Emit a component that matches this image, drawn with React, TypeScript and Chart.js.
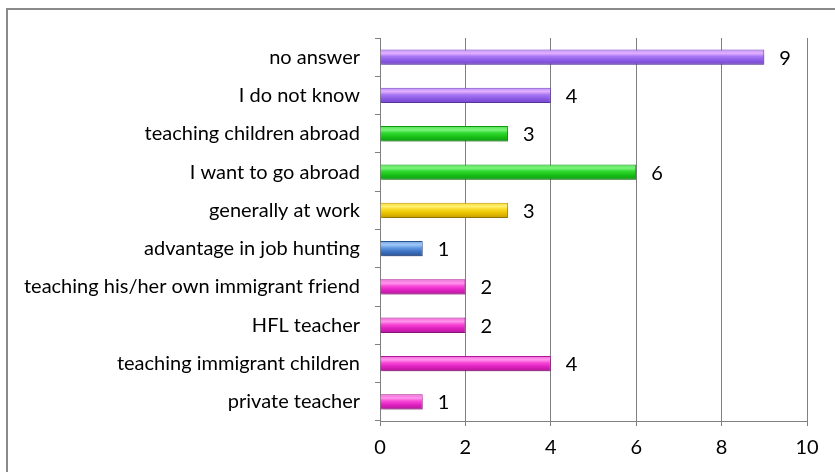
import React, { useEffect, useRef } from "react";
import { Chart, registerables } from "chart.js";

Chart.register(...registerables);

const categories = [
  "no answer",
  "I do not know",
  "teaching children abroad",
  "I want to go abroad",
  "generally at work",
  "advantage in job hunting",
  "teaching his/her own immigrant friend",
  "HFL teacher",
  "teaching immigrant children",
  "private teacher",
];
const values = [9, 4, 3, 6, 3, 1, 2, 2, 4, 1];
const colorGroups = ["purple", "purple", "green", "green", "yellow", "blue", "pink", "pink", "pink", "pink"];
const xTicks = [0, 2, 4, 6, 8, 10];

const palettes: Record<string, string[]> = {
  purple: ["#c090f8", "#e2b0ff", "#a878f4", "#8c5ce6", "#7444c8"],
  green: ["#50e050", "#7cf47c", "#30d830", "#18c018", "#0e9a0e"],
  yellow: ["#f8d830", "#fff070", "#f8d820", "#e8c000", "#c09a00"],
  blue: ["#70a0e0", "#a0c8f8", "#6098e0", "#3c70c0", "#2a5498"],
  pink: ["#f060d8", "#ff98ec", "#f848d8", "#e020c0", "#b0189a"],
};

const FONT = "Lato, 'Open Sans', sans-serif";
const FONT_SIZE = 20;

const gradientPlugin = {
  id: "gradients",
  beforeDatasetsDraw(chart: any) {
    const ctx = chart.ctx;
    const meta = chart.getDatasetMeta(0);
    meta.data.forEach((bar: any, i: number) => {
      const h = bar.height;
      const top = bar.y - h / 2;
      const p = palettes[colorGroups[i]];
      const g = ctx.createLinearGradient(0, top, 0, top + h);
      g.addColorStop(0, p[0]);
      g.addColorStop(0.25, p[1]);
      g.addColorStop(0.45, p[2]);
      g.addColorStop(0.7, p[3]);
      g.addColorStop(1, p[4]);
      bar.options.backgroundColor = g;
      bar.options.borderColor = p[4];
    });
    ctx.save();
    ctx.shadowColor = "rgba(0,0,0,0.28)";
    ctx.shadowBlur = 4;
    ctx.shadowOffsetX = 1;
    ctx.shadowOffsetY = 3;
  },
  afterDatasetsDraw(chart: any) {
    const ctx = chart.ctx;
    ctx.restore();
    const meta = chart.getDatasetMeta(0);
    ctx.save();
    ctx.font = `${FONT_SIZE}px ${FONT}`;
    ctx.fillStyle = "#000";
    ctx.textBaseline = "middle";
    ctx.textAlign = "left";
    meta.data.forEach((bar: any, i: number) => {
      ctx.fillText(String(values[i]), bar.x + 15, bar.y + 1);
    });
    ctx.restore();
  },
};

export default function App() {
  const ref = useRef<HTMLCanvasElement>(null);
  useEffect(() => {
    if (!ref.current) return;
    const chart = new Chart(ref.current, {
      type: "bar",
      data: {
        labels: categories,
        datasets: [
          {
            data: values,
            backgroundColor: (c: any) => palettes[colorGroups[c.dataIndex]][2],
            borderColor: (c: any) => palettes[colorGroups[c.dataIndex]][4],
            borderWidth: 1,
            barPercentage: 0.4,
            categoryPercentage: 1,
          },
        ],
      },
      options: {
        indexAxis: "y",
        animation: false,
        responsive: false,
        maintainAspectRatio: false,
        layout: { padding: { left: 0, right: 28, top: 38, bottom: 0 } },
        plugins: { legend: { display: false }, tooltip: { enabled: false } },
        scales: {
          x: {
            min: 0,
            max: 10,
            afterBuildTicks: (s: any) => {
              s.ticks = xTicks.map((v) => ({ value: v }));
            },
            afterFit: (s: any) => {
              s.height = 51;
            },
            grid: { color: "#808080", lineWidth: 1, tickLength: 5, drawTicks: true },
            border: { color: "#808080", width: 1 },
            ticks: { color: "#000", font: { family: FONT, size: FONT_SIZE }, padding: 10 },
          },
          y: {
            afterFit: (s: any) => {
              s.width = 380;
            },
            grid: { display: true, drawOnChartArea: false, color: "#808080", tickLength: 5, offset: true },
            border: { color: "#808080", width: 1 },
            ticks: { color: "#000", font: { family: FONT, size: FONT_SIZE }, padding: 15 },
          },
        },
      },
      plugins: [gradientPlugin],
    });
    return () => chart.destroy();
  }, []);
  return (
    <div style={{ position: "absolute", left: 0, top: 0, width: 835, height: 472, background: "#fff", overflow: "hidden" }}>
      <div
        style={{
          position: "absolute",
          left: 6,
          top: 8,
          width: 840,
          height: 480,
          borderLeft: "2px solid #8a8a8a",
          borderTop: "2px solid #8a8a8a",
          boxSizing: "border-box",
        }}
      />
      <canvas ref={ref} width={835} height={472} style={{ position: "absolute", left: 0, top: 0 }} />
    </div>
  );
}
